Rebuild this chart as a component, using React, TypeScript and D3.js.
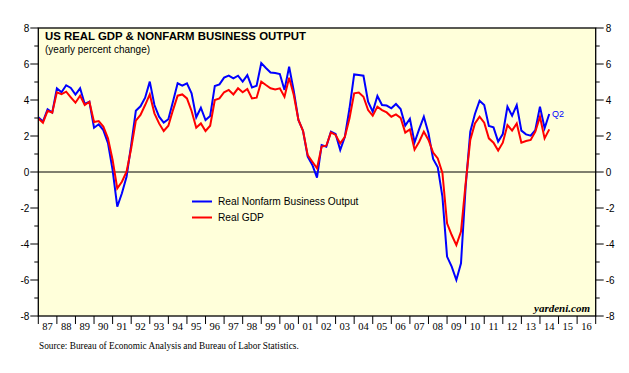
import * as d3 from "d3";

// quarterly, 1986Q4 .. 2014Q2 (yearly percent change)
const firstQuarter = { year: 1986, q: 4 };

const nonfarmOutput = [
  3.04, 2.8, 3.48, 3.3, 4.65, 4.43, 4.82, 4.67, 4.3, 4.65, 3.78, 3.9, 2.46, 2.65, 2.33, 1.6,
  0.1, -1.93, -1.18, -0.26, 1.5, 3.4, 3.65, 4.13, 5.02, 3.72, 3.07, 2.74, 2.93, 3.91, 4.93, 4.8,
  4.93, 4.37, 3.04, 3.57, 2.89, 3.11, 4.78, 4.87, 5.24, 5.35, 5.2, 5.35, 5.02, 5.38, 4.7, 4.79,
  6.05, 5.78, 5.53, 5.5, 5.44, 4.56, 5.85, 4.5, 2.89, 2.28, 0.85, 0.39, -0.31, 1.5, 1.41, 2.24,
  2.11, 1.22, 1.96, 3.54, 5.42, 5.39, 5.35, 3.91, 3.35, 4.22, 3.72, 3.69, 3.54, 3.78, 3.5, 2.58,
  2.96, 1.64, 2.38, 3.07, 2.15, 0.73, 0.26, -1.37, -4.7, -5.26, -6.0, -5.07, -0.81, 2.24, 3.22, 3.96,
  3.72, 2.56, 2.48, 1.69, 2.11, 3.63, 3.13, 3.72, 2.3, 2.09, 2.02, 2.33, 3.63, 2.43, 3.22,
];

const realGdp = [
  2.98, 2.74, 3.4, 3.3, 4.43, 4.33, 4.46, 4.15, 3.85, 4.24, 3.72, 3.9, 2.78, 2.83, 2.52, 1.87,
  0.67, -0.91, -0.54, 0.02, 1.31, 2.85, 3.17, 3.72, 4.31, 3.26, 2.7, 2.28, 2.57, 3.44, 4.24, 4.31,
  4.09, 3.39, 2.46, 2.7, 2.28, 2.57, 4.0, 4.09, 4.43, 4.56, 4.31, 4.65, 4.43, 4.61, 4.09, 4.13,
  5.02, 4.83, 4.65, 4.59, 4.65, 4.18, 5.24, 4.28, 2.89, 2.28, 0.94, 0.57, 0.2, 1.41, 1.46, 2.2,
  2.06, 1.59, 1.96, 2.98, 4.37, 4.41, 4.18, 3.44, 3.13, 3.63, 3.44, 3.31, 3.07, 3.2, 3.01, 2.19,
  2.37, 1.24, 1.68, 2.24, 1.78, 1.08, 0.75, -0.05, -2.85, -3.5, -4.06, -3.31, -0.63, 1.78, 2.7, 3.07,
  2.74, 1.87, 1.63, 1.19, 1.63, 2.61, 2.3, 2.7, 1.63, 1.72, 1.78, 2.24, 3.07, 1.87, 2.37,
];

const yearLabels = [
  "87", "88", "89", "90", "91", "92", "93", "94", "95", "96", "97", "98", "99", "00", "01",
  "02", "03", "04", "05", "06", "07", "08", "09", "10", "11", "12", "13", "14", "15", "16",
];
const yTicks = [-8, -6, -4, -2, 0, 2, 4, 6, 8];

const W = 629;
const H = 373;
const left = 38.3;
const right = 595.7;
const top = 28;
const bottom = 316;

// quarter-end dates as fractional years
const dates = nonfarmOutput.map((_, i) => firstQuarter.year + (firstQuarter.q + i) / 4);

export default function App() {
  const x = d3.scaleLinear().domain([1987, 2017]).range([left, right]);
  const y = d3.scaleLinear().domain([-8, 8]).range([bottom, top]);

  const line = d3
    .line<number>()
    .x((_, i) => x(dates[i]))
    .y((d) => y(d));

  const years = d3.range(1987, 2018);
  const minor = d3.range(-7, 8, 2);
  const sans = "Arial, 'Liberation Sans', sans-serif";
  const serif = "'Times New Roman', 'Liberation Serif', serif";

  return (
    <svg width={W} height={H} style={{ position: "absolute", left: 0, top: 0 }}>
      <defs>
        <clipPath id="plot">
          <rect x={left} y={top} width={right - left} height={bottom - top} />
        </clipPath>
      </defs>
      <rect x={0} y={0} width={W} height={H} fill="#fff" />
      <rect x={left} y={top} width={right - left} height={bottom - top} fill="#ffffda" />

      {/* zero line */}
      <line x1={left} x2={right} y1={y(0)} y2={y(0)} stroke="#000" strokeWidth={1} />

      <g clipPath="url(#plot)" fill="none" strokeWidth={2} strokeLinejoin="miter">
        <path d={line(nonfarmOutput) ?? ""} stroke="#0000ff" />
        <path d={line(realGdp) ?? ""} stroke="#ff0000" />
      </g>

      {/* frame */}
      <rect x={left} y={top} width={right - left} height={bottom - top} fill="none" stroke="#000" strokeWidth={1.3} />

      {/* y axes */}
      {yTicks.map((t) => (
        <g key={t}>
          <line x1={left - 8} x2={left} y1={y(t)} y2={y(t)} stroke="#000" />
          <line x1={right} x2={right + 8} y1={y(t)} y2={y(t)} stroke="#000" />
          <text x={left - 9} y={y(t) + 3.5} textAnchor="end" fontFamily={sans} fontSize={10}>
            {t}
          </text>
          <text x={right + 10} y={y(t) + 3.5} fontFamily={sans} fontSize={10}>
            {t}
          </text>
        </g>
      ))}
      {minor.map((t) => (
        <g key={t}>
          <line x1={left - 4} x2={left} y1={y(t)} y2={y(t)} stroke="#000" />
          <line x1={right} x2={right + 4} y1={y(t)} y2={y(t)} stroke="#000" />
        </g>
      ))}

      {/* x axis */}
      {years.map((yr) => (
        <line key={yr} x1={x(yr)} x2={x(yr)} y1={bottom} y2={bottom + 8} stroke="#000" />
      ))}
      {yearLabels.map((lab, i) => (
        <text
          key={lab}
          x={x(1987 + i + 0.5)}
          y={bottom + 14}
          textAnchor="middle"
          fontFamily={serif}
          fontSize={10.5}
        >
          {lab}
        </text>
      ))}

      {/* titles */}
      <text x={45} y={40} fontFamily={sans} fontSize={11.4} fontWeight="bold">
        US REAL GDP &amp; NONFARM BUSINESS OUTPUT
      </text>
      <text x={45} y={53} fontFamily={sans} fontSize={10}>
        (yearly percent change)
      </text>

      {/* legend */}
      <line x1={192} x2={212} y1={201.5} y2={201.5} stroke="#0000ff" strokeWidth={2} />
      <text x={218} y={205} fontFamily={sans} fontSize={10.2}>
        Real Nonfarm Business Output
      </text>
      <line x1={192} x2={212} y1={217.5} y2={217.5} stroke="#ff0000" strokeWidth={2} />
      <text x={218} y={221} fontFamily={sans} fontSize={10.2}>
        Real GDP
      </text>

      <text x={552} y={117} fontFamily={sans} fontSize={9} fill="#0000ff">
        Q2
      </text>

      <text x={590} y={312} textAnchor="end" fontFamily={serif} fontSize={11} fontStyle="italic" fontWeight="bold">
        yardeni.com
      </text>

      <text x={39} y={349} fontFamily={serif} fontSize={9.3}>
        Source: Bureau of Economic Analysis and Bureau of Labor Statistics.
      </text>
    </svg>
  );
}
